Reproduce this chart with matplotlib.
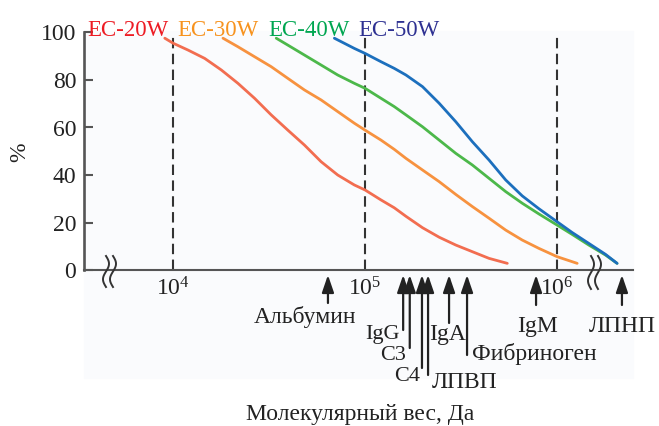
import matplotlib
matplotlib.use('Agg')
import matplotlib.pyplot as plt
from matplotlib import transforms
from matplotlib.lines import Line2D
from matplotlib.patches import Rectangle, ArrowStyle
import numpy as np

W, H = 659, 426
plt.rcParams['font.family'] = ['Liberation Serif', 'DejaVu Serif']
plt.rcParams['mathtext.fontset'] = 'custom'
plt.rcParams['mathtext.rm'] = 'Liberation Serif'
plt.rcParams['mathtext.it'] = 'Liberation Serif:italic'
plt.rcParams['mathtext.bf'] = 'Liberation Serif:bold'

# ---------------- data ----------------
series_names = ['EC-20W', 'EC-30W', 'EC-40W', 'EC-50W']
legend_colors = ['#ed1c24', '#f7931e', '#00a651', '#2e3192']
line_colors = ['#f26d50', '#f7923f', '#4cb84a', '#1c6fbd']

ec20_mw = [9055, 10000, 11970, 14610, 17850, 21770, 26580, 32460, 39600, 48360, 59050,
           72060, 87970, 100000, 121100, 142000, 163400, 199300, 243400, 297200,
           362500, 442600, 551000]
ec20_pct = [97.6, 95.5, 92.6, 89.1, 84.2, 78.6, 72.3, 65.3, 58.9, 52.6, 45.6,
            40.0, 35.8, 33.7, 29.5, 26.2, 22.6, 17.8, 13.8, 10.5,
            7.7, 4.9, 2.8]

ec30_mw = [18200, 21770, 26580, 32460, 39600, 48360, 59050, 72060, 87970, 100000,
           121100, 142000, 163400, 199300, 243400, 297200, 362500, 442600, 540600,
           659400, 805100, 1002000, 1274000]
ec30_pct = [97.6, 94.0, 89.8, 85.6, 80.7, 75.8, 71.6, 66.7, 61.8, 58.9,
            54.7, 50.8, 47.0, 42.1, 37.2, 31.8, 26.7, 21.8, 16.8,
            12.6, 9.1, 5.6, 2.8]

ec40_mw = [34470, 39600, 48360, 59050, 72060, 87970, 100000, 121100, 142000, 163400,
           199300, 243400, 297200, 362500, 442600, 540600, 659400, 805100, 1002000,
           1199000, 1465000, 1789000, 2056000]
ec40_pct = [97.6, 94.7, 90.5, 86.3, 82.1, 78.6, 76.5, 72.3, 68.8, 65.3,
            60.3, 54.7, 49.1, 44.2, 38.6, 33.0, 28.1, 23.6, 18.9,
            15.0, 10.5, 6.3, 2.8]

ec50_mw = [69230, 87970, 100000, 121100, 142000, 163400, 199300, 243400, 297200,
           362500, 442600, 540600, 659400, 805100, 1002000, 1199000, 1465000,
           1789000, 2056000]
ec50_pct = [97.6, 93.3, 91.2, 87.7, 84.9, 82.1, 77.2, 70.2, 62.4,
            54.0, 46.3, 37.9, 31.2, 25.8, 20.3, 15.8, 11.2,
            6.6, 2.8]

series_mw = [ec20_mw, ec30_mw, ec40_mw, ec50_mw]
series_pct = [ec20_pct, ec30_pct, ec40_pct, ec50_pct]

y_ticks = [0, 20, 40, 60, 80, 100]
x_ticks = [1e4, 1e5, 1e6]
x_tick_labels = [r'$10^4$', r'$10^5$', r'$10^6$']

protein_names = ['Альбумин', 'IgG', 'C3', 'C4', 'ЛПВП', 'IgA', 'Фибриноген', 'IgM', 'ЛПНП']
protein_mw = [64100, 158000, 171000, 198000, 213000, 274000, 340000, 778000, 2180000]

x_label = 'Молекулярный вес, Да'
y_label = '%'

FS = 17

# ---------------- layout helpers ----------------
def fy(py):
    return 1 - py / H

fig = plt.figure(figsize=(W / 100, H / 100), dpi=100)
fig.patch.set_facecolor('white')
fig.patches.append(Rectangle((84 / W, fy(378)), (633 - 84) / W, (378 - 31) / H,
                             transform=fig.transFigure, color='#fafbfd', zorder=-5))

ax = fig.add_axes([84 / W, fy(270), (633 - 84) / W, (270 - 32.5) / H])
ax.patch.set_alpha(0)
ax.set_xscale('log')
ax.set_xlim(10 ** 3.536, 10 ** 6.396)
ax.set_ylim(0, 100)

for sp in ['top', 'right']:
    ax.spines[sp].set_visible(False)
ax.spines['left'].set_color('#555555')
ax.spines['left'].set_linewidth(1.9)
ax.spines['bottom'].set_color('#555555')
ax.spines['bottom'].set_linewidth(1.5)

ax.set_yticks(y_ticks)
ax.set_yticklabels([str(v) for v in y_ticks])
ax.tick_params(axis='y', direction='in', length=6.5, width=1.5, color='#555555',
               pad=5.5, labelsize=FS, labelcolor='#222222')
ax.set_xticks(x_ticks)
ax.set_xticklabels(x_tick_labels)
ax.xaxis.set_minor_locator(matplotlib.ticker.NullLocator())
ax.tick_params(axis='x', length=0, pad=5, labelsize=FS, labelcolor='#222222')

for xv in x_ticks:
    ax.axvline(xv, color='#333333', lw=1.5, ls=(0, (5, 2.6)), zorder=1)

for mw, pct, c in zip(series_mw, series_pct, line_colors):
    ax.plot(mw, pct, color=c, lw=2.0, zorder=3, solid_capstyle='round',
            solid_joinstyle='round')

# legend texts
legend_left = [87, 177, 268, 358]
for name, c, lx in zip(series_names, legend_colors, legend_left):
    fig.text(lx / W, fy(36), name, color=c, fontsize=16.5, ha='left', va='baseline')

# axis labels
fig.text(360 / W, fy(420), x_label, fontsize=FS, ha='center', va='baseline', color='#222222')
fig.text(20 / W, fy(152), y_label, fontsize=FS, ha='center', va='center', rotation=90, color='#222222')

# protein arrows
trans = transforms.blended_transform_factory(ax.transData, fig.transFigure)
arrow_tail_py = [303, 330, 348, 368, 375, 323, 355, 305, 305]
label_dx = [-23, -3, -4, -2, 4, -2, 5, 1, 0]
label_base_py = [323, 339, 360, 381, 388, 340, 360, 332, 332]
label_ha = ['center', 'right', 'right', 'right', 'left', 'center', 'left', 'center', 'center']
label_fs = [FS, 16, 16, 16, FS, FS, FS, FS, FS]
astyle = ArrowStyle('-|>', head_length=10.5, head_width=3.6)
for name, mw, tail, dx, base, ha, fs in zip(protein_names, protein_mw, arrow_tail_py,
                                             label_dx, label_base_py, label_ha, label_fs):
    ax.annotate('', xy=(mw, fy(275)), xytext=(mw, fy(tail)), xycoords=trans,
                textcoords=trans,
                arrowprops=dict(arrowstyle=astyle, mutation_scale=1, lw=1.6,
                                color='#222222', shrinkA=0, shrinkB=0),
                annotation_clip=False)
    ax.annotate(name, xy=(mw, fy(base)), xycoords=trans, xytext=(dx, 0),
                textcoords='offset pixels', ha=ha, va='baseline', fontsize=fs,
                color='#222222', annotation_clip=False)

# axis break squiggles
def squiggle(xc, y0, y1):
    t = np.linspace(0, 1, 60)
    xs = xc + 3.0 * np.sin(2 * np.pi * t)
    ys = y0 + t * (y1 - y0)
    fig.add_artist(Line2D(xs / W, 1 - ys / H, transform=fig.transFigure,
                          color='#333333', lw=1.4))

for xc in (106, 113):
    squiggle(xc, 256, 287)
for xc in (591, 598):
    squiggle(xc, 256, 289)

fig.savefig('out.png', dpi=100, facecolor='white')
